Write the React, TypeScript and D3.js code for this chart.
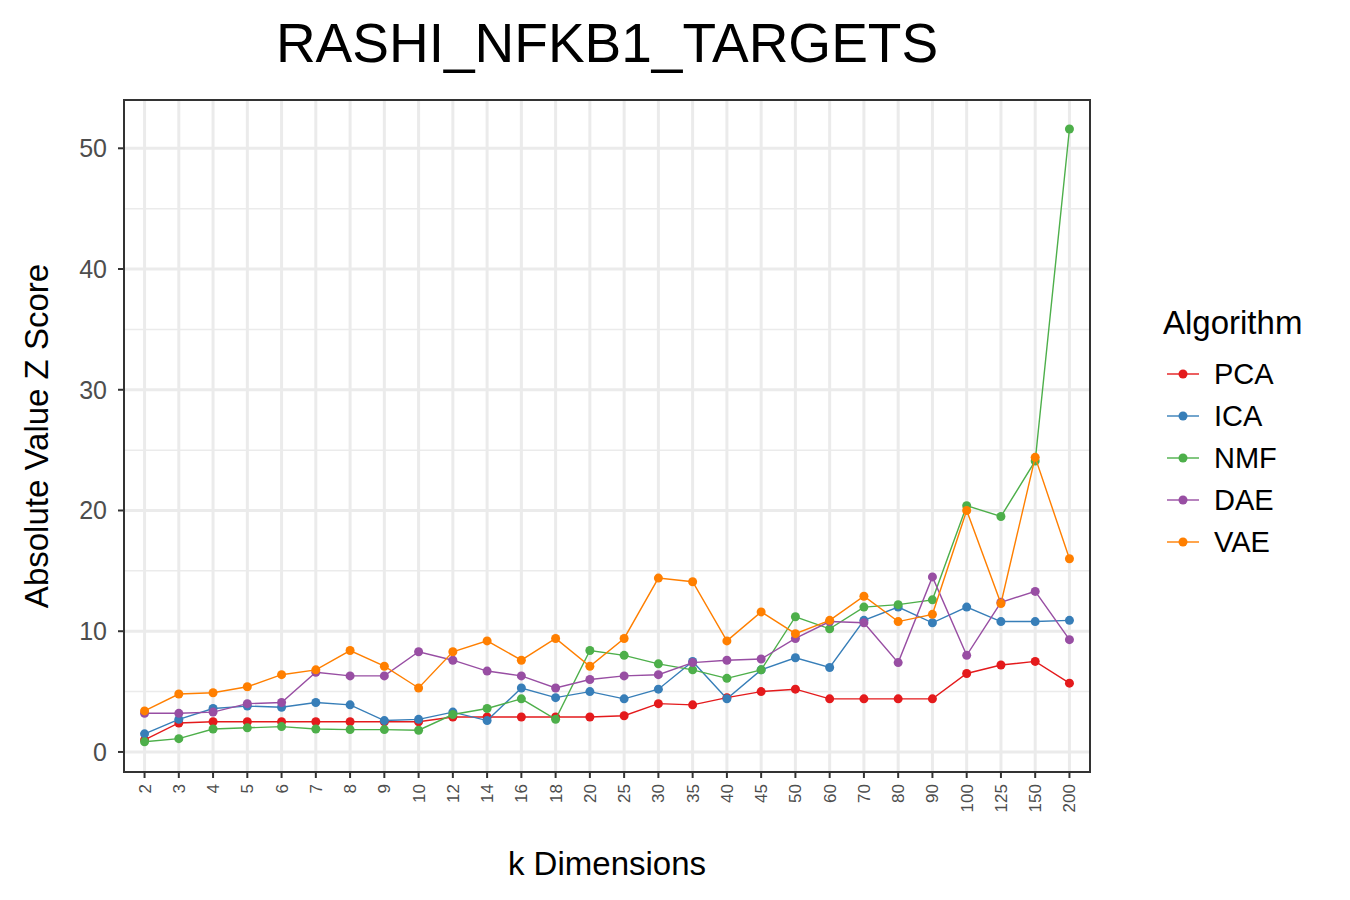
import React from 'react';
import * as d3 from 'd3';

const kDims = ['2','3','4','5','6','7','8','9','10','12','14','16','18','20','25','30','35','40','45','50','60','70','80','90','100','125','150','200'];
const algorithms = ['PCA', 'ICA', 'NMF', 'DAE', 'VAE'];
const colors = ['#E41A1C', '#377EB8', '#4DAF4A', '#984EA3', '#FF7F00'];
const pca = [1.0,2.4,2.5,2.5,2.5,2.5,2.5,2.5,2.5,2.9,2.9,2.9,2.9,2.9,3.0,4.0,3.9,4.5,5.0,5.2,4.4,4.4,4.4,4.4,6.5,7.2,7.5,5.7];
const ica = [1.5,2.7,3.6,3.8,3.7,4.1,3.9,2.6,2.7,3.3,2.6,5.3,4.5,5.0,4.4,5.2,7.5,4.4,6.8,7.8,7.0,10.9,12.0,10.7,12.0,10.8,10.8,10.9];
const nmf = [0.85,1.1,1.9,2.0,2.1,1.9,1.85,1.85,1.8,3.1,3.6,4.4,2.7,8.4,8.0,7.3,6.8,6.1,6.8,11.2,10.2,12.0,12.2,12.6,20.4,19.5,24.1,51.6];
const dae = [3.2,3.2,3.3,4.0,4.1,6.6,6.3,6.3,8.3,7.6,6.7,6.3,5.3,6.0,6.3,6.4,7.4,7.6,7.7,9.4,10.8,10.7,7.4,14.5,8.0,12.4,13.3,9.3];
const vae = [3.4,4.8,4.9,5.4,6.4,6.8,8.4,7.1,5.3,8.3,9.2,7.6,9.4,7.1,9.4,14.4,14.1,9.2,11.6,9.8,10.9,12.9,10.8,11.4,20.0,12.3,24.4,16.0];
const series = [pca, ica, nmf, dae, vae];
const yTicks = [0, 10, 20, 30, 40, 50];

const L = 124, R = 1090, T = 100, B = 772;

export default function App() {
  const x = d3.scalePoint<string>().domain(kDims).range([L, R]).padding(0.6);
  const y = d3.scaleLinear().domain([-1.66, 54.0]).range([B, T]);
  const minor = yTicks.slice(0, -1).map(v => v + 5);
  const line = d3.line<number>().x((_, i) => x(kDims[i])!).y(d => y(d));
  const font = 'Liberation Sans, Arial, sans-serif';
  return (
    <svg width={1350} height={900} style={{ position: 'absolute', left: 0, top: 0, fontFamily: font }}>
      <rect width={1350} height={900} fill="#fff" />
      <text x={607} y={62} fontSize={55} textAnchor="middle">RASHI_NFKB1_TARGETS</text>
      {minor.map(v => <line key={'m' + v} x1={L} x2={R} y1={y(v)} y2={y(v)} stroke="#EBEBEB" strokeWidth={1.5} />)}
      {yTicks.map(v => <line key={'g' + v} x1={L} x2={R} y1={y(v)} y2={y(v)} stroke="#EBEBEB" strokeWidth={3} />)}
      {kDims.map(k => <line key={'v' + k} x1={x(k)} x2={x(k)} y1={T} y2={B} stroke="#EBEBEB" strokeWidth={3} />)}
      {series.map((s, i) => (
        <g key={algorithms[i]}>
          <path d={line(s)!} fill="none" stroke={colors[i]} strokeWidth={1.4} />
          {s.map((v, j) => <circle key={j} cx={x(kDims[j])} cy={y(v)} r={4.5} fill={colors[i]} />)}
        </g>
      ))}
      <rect x={L} y={T} width={R - L} height={B - T} fill="none" stroke="#333" strokeWidth={2} />
      {yTicks.map(v => (
        <g key={'t' + v}>
          <line x1={L - 6} x2={L} y1={y(v)} y2={y(v)} stroke="#333" strokeWidth={2} />
          <text x={L - 17} y={y(v)} dy="0.35em" textAnchor="end" fontSize={25} fill="#4D4D4D">{v}</text>
        </g>
      ))}
      {kDims.map(k => (
        <g key={'x' + k}>
          <line x1={x(k)} x2={x(k)} y1={B} y2={B + 6} stroke="#333" strokeWidth={2} />
          <text transform={`translate(${x(k)! + 6},${B + 12}) rotate(-90)`} textAnchor="end" fontSize={17} fill="#4D4D4D">{k}</text>
        </g>
      ))}
      <text x={607} y={875} textAnchor="middle" fontSize={33}>k Dimensions</text>
      <text transform={`translate(48,${(T + B) / 2}) rotate(-90)`} textAnchor="middle" fontSize={33}>Absolute Value Z Score</text>
      <text x={1163} y={334} fontSize={33}>Algorithm</text>
      {algorithms.map((a, i) => (
        <g key={'l' + a} transform={`translate(0,${374 + i * 42})`}>
          <line x1={1167} x2={1199} y1={0} y2={0} stroke={colors[i]} strokeWidth={1.4} />
          <circle cx={1183} cy={0} r={4.5} fill={colors[i]} />
          <text x={1214} y={0} dy="0.35em" fontSize={29}>{a}</text>
        </g>
      ))}
    </svg>
  );
}
